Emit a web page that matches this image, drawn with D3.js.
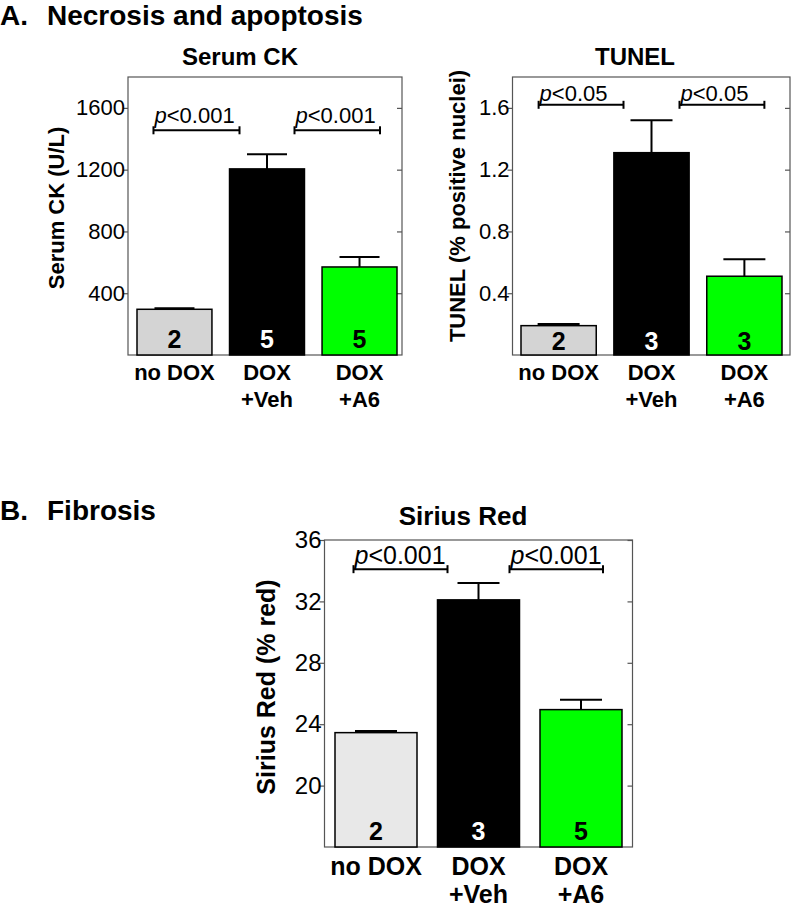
<!DOCTYPE html>
<html>
<head>
<meta charset="utf-8">
<script src="https://cdn.jsdelivr.net/npm/d3@7"></script>
<style>
  html, body { margin: 0; padding: 0; background: #fff; }
  svg { display: block; font-family: "Liberation Sans", Arial, Helvetica, sans-serif; }
</style>
</head>
<body>
<svg id="chart" width="791" height="908"></svg>
<script>
// ---------- data ----------
const categories = ["no DOX", "DOX\n+Veh", "DOX\n+A6"];

const ckValues = [296, 1205, 570];
const ckErrors = [6, 95, 65];
const ckN = ["2", "5", "5"];
const ckTicks = [400, 800, 1200, 1600];
const ckPvals = ["<0.001", "<0.001"];

const tunelValues = [0.19, 1.31, 0.51];
const tunelErrors = [0.01, 0.21, 0.11];
const tunelN = ["2", "3", "3"];
const tunelTicks = [0.4, 0.8, 1.2, 1.6];
const tunelPvals = ["<0.05", "<0.05"];

const siriusValues = [23.45, 32.1, 24.95];
const siriusErrors = [0.1, 1.1, 0.65];
const siriusN = ["2", "3", "5"];
const siriusTicks = [20, 24, 28, 32, 36];
const siriusPvals = ["<0.001", "<0.001"];

const barFills1 = ["#d4d4d4", "#000000", "#00ff00"];
const barFills3 = ["#e8e8e8", "#000000", "#00ff00"];
const nColors = ["#000", "#fff", "#000"];

const svg = d3.select("#chart");

// headers
function header(letter, text, y) {
  svg.append("text").attr("x", 0).attr("y", y).attr("font-size", 28).attr("font-weight", "bold").text(letter);
  svg.append("text").attr("x", 47).attr("y", y).attr("font-size", 28).attr("font-weight", "bold").text(text);
}
header("A.", "Necrosis and apoptosis", 25);
header("B.", "Fibrosis", 520);

function panel(cfg) {
  const g = svg.append("g");
  const x = d3.scaleBand().domain(categories).range(cfg.barRange).paddingInner(cfg.padInner).paddingOuter(0);
  const y = d3.scaleLinear().domain(cfg.yDomain).range([cfg.bottom, cfg.top]);
  const fs = cfg.fs;

  g.append("rect")
    .attr("x", cfg.frameL).attr("y", cfg.top)
    .attr("width", cfg.frameR - cfg.frameL).attr("height", cfg.bottom - cfg.top)
    .attr("fill", "none").attr("stroke", "#555").attr("stroke-width", 1.2);

  const la = g.append("g").attr("transform", `translate(${cfg.frameL},0)`)
    .call(d3.axisLeft(y).tickValues(cfg.ticks).tickSize(5).tickSizeOuter(0).tickPadding(-2)
      .tickFormat(cfg.fmt));
  la.select(".domain").remove();
  la.selectAll("line").attr("stroke", "#555").attr("stroke-width", 1.2);
  la.selectAll("text").attr("font-size", fs).attr("fill", "#000")
    .attr("font-family", "'Liberation Sans', Arial, sans-serif");

  const ra = g.append("g").attr("transform", `translate(${cfg.frameR},0)`)
    .call(d3.axisRight(y).tickValues(cfg.ticks).tickSize(-5).tickSizeOuter(0).tickFormat(""));
  ra.select(".domain").remove();
  ra.selectAll("line").attr("stroke", "#555").attr("stroke-width", 1.2);

  const errW = cfg.capW;
  categories.forEach((c, i) => {
    const v = cfg.values[i], e = cfg.errors[i];
    const cx = x(c) + x.bandwidth() / 2;
    g.append("line").attr("x1", cx).attr("x2", cx).attr("y1", y(v)).attr("y2", y(v + e))
      .attr("stroke", "#000").attr("stroke-width", 2);
    g.append("line").attr("x1", cx - errW / 2).attr("x2", cx + errW / 2).attr("y1", y(v + e)).attr("y2", y(v + e))
      .attr("stroke", "#000").attr("stroke-width", 2);
    g.append("rect")
      .attr("x", x(c)).attr("y", y(v))
      .attr("width", x.bandwidth()).attr("height", y(cfg.yDomain[0]) - y(v))
      .attr("fill", cfg.fills[i]).attr("stroke", "#000").attr("stroke-width", 1.5);
    g.append("text").attr("x", cx).attr("y", cfg.nY).attr("text-anchor", "middle")
      .attr("font-size", 25).attr("font-weight", "bold").attr("fill", nColors[i]).text(cfg.ns[i]);
    const lines = c.split("\n");
    lines.forEach((ln, j) => {
      g.append("text").attr("x", cx).attr("y", cfg.catY + j * cfg.catLH).attr("text-anchor", "middle")
        .attr("font-size", cfg.catFs).attr("font-weight", "bold").text(ln);
    });
  });

  // significance brackets: [from bar, to bar, left offset, right offset]
  cfg.brackets.forEach((b, k) => {
    const x1 = x(categories[b[0]]) + x.bandwidth() / 2 + b[2];
    const x2 = x(categories[b[1]]) + x.bandwidth() / 2 + b[3];
    const by = y(cfg.brY);
    g.append("line").attr("x1", x1).attr("x2", x2).attr("y1", by).attr("y2", by).attr("stroke", "#000").attr("stroke-width", 2);
    [x1, x2].forEach(xx => g.append("line").attr("x1", xx).attr("x2", xx).attr("y1", by - 4).attr("y2", by + 4)
      .attr("stroke", "#000").attr("stroke-width", 2));
    const t = g.append("text").attr("x", x1 + 1).attr("y", by - cfg.pGap).attr("font-size", cfg.pFs);
    t.append("tspan").attr("font-style", "italic").text("p");
    t.append("tspan").text(cfg.pvals[k]);
  });

  g.append("text").attr("x", cfg.titleX).attr("y", cfg.titleY).attr("text-anchor", "middle")
    .attr("font-size", cfg.titleFs).attr("font-weight", "bold").text(cfg.title);
  g.append("text").attr("transform", `translate(${cfg.ytX},${cfg.ytY}) rotate(-90)`)
    .attr("text-anchor", "middle").attr("font-size", cfg.ytFs).attr("font-weight", "bold").text(cfg.yTitle);
}

panel({
  barRange: [137, 397], padInner: 0.19, frameL: 128, frameR: 402, top: 77, bottom: 355,
  yDomain: [0, 1800], ticks: ckTicks, fmt: d3.format("d"), fs: 22,
  values: ckValues, errors: ckErrors, ns: ckN, fills: barFills1, capW: 40, nY: 348,
  catY: 380, catLH: 27, catFs: 22,
  brackets: [[0, 1, -21, -27.5], [1, 2, 27.5, 20.5]], brY: 1455, pvals: ckPvals, pGap: 7, pFs: 22,
  title: "Serum CK", titleX: 240, titleY: 65, titleFs: 24,
  yTitle: "Serum CK (U/L)", ytX: 64, ytY: 208, ytFs: 22
});

panel({
  barRange: [521, 782], padInner: 0.19, frameL: 512.5, frameR: 790, top: 77, bottom: 355,
  yDomain: [0, 1.8], ticks: tunelTicks, fmt: d3.format(".1f"), fs: 22,
  values: tunelValues, errors: tunelErrors, ns: tunelN, fills: barFills1, capW: 42, nY: 350,
  catY: 380, catLH: 27, catFs: 22,
  brackets: [[0, 1, -20, -28], [1, 2, 28, 20]], brY: 1.62, pvals: tunelPvals, pGap: 4, pFs: 22,
  title: "TUNEL", titleX: 635, titleY: 65, titleFs: 24,
  yTitle: "TUNEL (% positive nuclei)", ytX: 465, ytY: 206, ytFs: 22
});

panel({
  barRange: [335, 622], padInner: 0.2, frameL: 324.5, frameR: 632.5, top: 540, bottom: 847,
  yDomain: [16, 36], ticks: siriusTicks, fmt: d3.format("d"), fs: 24,
  values: siriusValues, errors: siriusErrors, ns: siriusN, fills: barFills3, capW: 42, nY: 840,
  catY: 875, catLH: 28, catFs: 25,
  brackets: [[0, 1, -22.5, -31], [1, 2, 31, 22]], brY: 34.1, pvals: siriusPvals, pGap: 5, pFs: 25,
  title: "Sirius Red", titleX: 463, titleY: 525, titleFs: 26,
  yTitle: "Sirius Red (% red)", ytX: 275, ytY: 687, ytFs: 25
});
</script>
</body>
</html>
